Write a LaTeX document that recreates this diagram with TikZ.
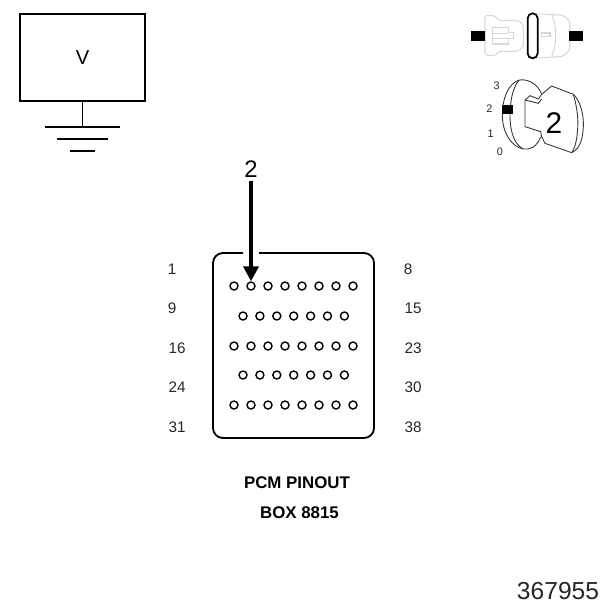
\documentclass[tikz,border=0pt]{standalone}
\usepackage{fontspec}
\setmainfont{Liberation Sans}
\usetikzlibrary{arrows.meta}
\definecolor{plugline}{HTML}{DDD4D4}
\definecolor{keyline}{HTML}{3A3535}
\tikzset{
    boxline/.style={line width=1.05pt},
    pinhole/.style={draw=black, circle, line width=.8pt, inner sep=0pt, minimum size=.16cm},
    pinnum/.style={inner sep=0pt, font=\fontsize{8.7}{10}\selectfont, text=black!85},
    dialnum/.style={inner sep=0pt, font=\fontsize{6.2}{8}\selectfont, text=black!85},
    plug/.style={draw=plugline, line width=.6pt},
    keypart/.style={draw=keyline, line width=.5pt}
}
\begin{document}
\begin{tikzpicture}[x=.02cm, y=-.02cm]
        \useasboundingbox (0,0) rectangle (607,606);
        % meter and ground
        \node[draw=black, boxline, minimum width=2.5cm, minimum height=1.74cm, inner sep=0pt, font=\fontsize{11.5}{13}\selectfont] (V) at (82.5,57.5) {V};
        \coordinate (G) at (82.5,127);
        \draw[boxline] (V.south) -- (G);
        \draw[boxline] (45,127) -- (120,127);
        \draw[boxline] (57,139) -- (108,139);
        \draw[boxline] (70,151) -- (95,151);
        % pcm connector
        \draw[boxline, rounded corners=.2cm] (259,253) -- (374,253) -- (374,438) -- (213,438) -- (213,253) -- (243,253);
        \foreach \i in {1,...,8} \node[pinhole] (A\i) at (234+17*\i-17,286) {};
        \foreach \i in {1,...,7} \node[pinhole] (B\i) at (243+16.9*\i-16.9,316) {};
        \foreach \i in {1,...,8} \node[pinhole] (C\i) at (234+17*\i-17,346) {};
        \foreach \i in {1,...,7} \node[pinhole] (D\i) at (243+16.9*\i-16.9,375) {};
        \foreach \i in {1,...,8} \node[pinhole] (E\i) at (234+17*\i-17,405) {};
        \node[pinnum] (L1) at (172,269) {1};
        \node[pinnum] (L9) at (172,308) {9};
        \node[pinnum] (L16) at (177,348) {16};
        \node[pinnum] (L24) at (177,387) {24};
        \node[pinnum] (L31) at (177,427) {31};
        \node[pinnum] (L8) at (408,269) {8};
        \node[pinnum] (L15) at (413,308) {15};
        \node[pinnum] (L23) at (413,348) {23};
        \node[pinnum] (L30) at (413,387) {30};
        \node[pinnum] (L38) at (413,427) {38};
        \node[inner sep=0pt, font=\fontsize{13.6}{15}\selectfont] (T) at (251,169) {2};
        \draw[-{Triangle[width=.3cm, length=.3cm]}, line width=2.3pt] (T.south) ++(0,3) -- (A2.north);
        \node[inner sep=0pt, font=\bfseries\fontsize{9.6}{11}\selectfont] (N1) at (297,483) {PCM PINOUT};
        \node[inner sep=0pt, font=\bfseries\fontsize{9.6}{11}\selectfont] (N2) at (299.5,513) {BOX 8815};
        \node[inner sep=0pt, font=\fontsize{14}{16}\selectfont, text=black!85] (N3) at (558,591) {367955};
        % connector pictogram and key
        \begin{scope}[shift={(450,0)}, x=.00667cm, y=-.00667cm]
            \draw[plug, rounded corners=.04cm] (105,120) -- (105,47) -- (135,47) -- (145,61) -- (205,61) -- (220,74) -- (220,139) -- (205,154) -- (145,154) -- (135,168) -- (105,165) -- (105,120);
            \draw[plug] (128,82) -- (175,82) -- (175,97) -- (190,97) -- (190,115) -- (175,115) -- (175,132) -- (128,132) -- cycle;
            \draw[plug] (128,100) -- (175,100);
            \draw[plug] (128,115) -- (175,115);
            \draw[plug, rounded corners=.04cm] (263,41) -- (340,46) -- (360,64) -- (360,149) -- (340,169) -- (263,174);
            \draw[plug] (305,41) .. controls (315,65) and (317,85) .. (317,105) .. controls (317,125) and (315,145) .. (305,169);
            \draw[plug] (275,99) rectangle (300,109);
            \fill[black] (64,92) rectangle (104,122);
            \fill[black] (358,92) rectangle (399,122);
            \draw[line width=1pt, rounded corners=.1cm] (233,40) rectangle (263,175);
            \draw[keypart] (208,240) .. controls (175,250) and (157,295) .. (157,345) .. controls (157,400) and (185,440) .. (220,447);
            \draw[keypart] (208,240) .. controls (190,258) and (180,300) .. (180,345) .. controls (180,400) and (195,435) .. (220,447);
            \draw[keypart] (208,240) .. controls (240,235) and (268,260) .. (275,283) -- (265,297) -- (240,287) -- (225,300) -- (225,380) -- (272,395) -- (275,410) -- (270,415) .. controls (260,440) and (240,450) .. (220,447);
            \draw[keypart] (225,300) -- (265,310) -- (275,297);
            \draw[keypart] (275,283) -- (305,258) -- (370,283) .. controls (390,300) and (402,345) .. (400,380) .. controls (398,420) and (390,445) .. (365,458) -- (285,430) -- (275,410);
            \draw[keypart] (370,283) .. controls (378,310) and (386,350) .. (383,385) .. controls (381,420) and (375,445) .. (365,458);
            \fill[black] (155,315) rectangle (190,343);
            \node[dialnum] (K3) at (140,257) {3};
            \node[dialnum] (K2) at (118,327) {2};
            \node[dialnum] (K1) at (122,400) {1};
            \node[dialnum] (K0) at (150,455) {0};
            \node[inner sep=0pt, font=\fontsize{17}{19}\selectfont] (K) at (312,370) {2};
        \end{scope}
    \end{tikzpicture}
\end{document}
